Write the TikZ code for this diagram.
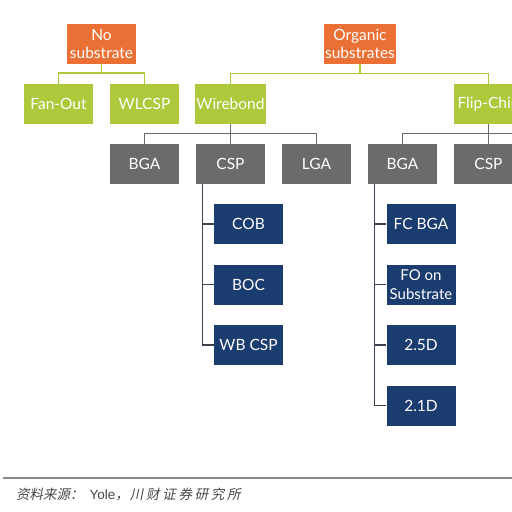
\documentclass[tikz,border=0pt]{standalone}
\usepackage{fontspec}
\setmainfont{Lato}
\newfontfamily\cjk[FakeSlant=0.2]{Noto Sans CJK SC}
\newfontfamily\cjkwide[FakeSlant=0.2, LetterSpace=20]{Noto Sans CJK SC}
\newfontfamily\capfont{Liberation Sans}
\usetikzlibrary{positioning}
\definecolor{orangebox}{HTML}{EB7035}
\definecolor{greenbox}{HTML}{AEC93C}
\definecolor{graybox}{HTML}{6B6B6D}
\definecolor{navybox}{HTML}{1B3C6E}
\definecolor{navyline}{HTML}{3B4150}
\definecolor{rulegray}{HTML}{8A8A8A}
\newcommand{\boxw}{69pt}
\newcommand{\boxh}{40pt}
\tikzset{
  pkg/.style = {minimum width=\boxw, minimum height=\boxh, inner sep=1pt, text=white,
                font=\fontsize{15.5}{18}\selectfont, align=center},
  topbox/.style = {pkg, fill=orangebox},
  techbox/.style = {pkg, fill=greenbox},
  typebox/.style = {pkg, fill=graybox},
  subbox/.style = {pkg, fill=navybox},
  greenlink/.style = {draw=greenbox, line width=1.5pt},
  graylink/.style = {draw=graybox, line width=1.5pt},
  navylink/.style = {draw=navyline, line width=1.3pt}
}

\begin{document}
\begin{tikzpicture}[x=1pt, y=-1pt]
                \clip (0,0) rectangle (512,512);
                \fill[white] (0,0) rectangle (512,512);
                % substrates
                \node[topbox] (nosub) at (101.5, 44) {No\\substrate};
                \node[topbox] (orgsub) at (360, 44) {Organic\\substrates};
                % interconnect
                \node[techbox] (fanout) at (58.5, 104) {Fan-Out};
                \node[techbox] (wlcsp) at (144.5, 104) {WLCSP};
                \node[techbox] (wirebond) at (230.5, 104) {Wirebond};
                \node[techbox] (flipchip) at (488.5, 104) {Flip-Chip};
                % package types
                \node[typebox] (bgaw) at (144.5, 164) {BGA};
                \node[typebox] (cspw) at (230.5, 164) {CSP};
                \node[typebox] (lgaw) at (316.5, 164) {LGA};
                \node[typebox] (bgaf) at (402.5, 164) {BGA};
                \node[typebox] (cspf) at (488.5, 164) {CSP};
                \coordinate (fcmore) at (530, 133.5);
                % wirebond CSP
                \node[subbox] (cob) at (248.5, 224) {COB};
                \node[subbox] (boc) at (248.5, 284.5) {BOC};
                \node[subbox] (wbcsp) at (248.5, 345) {WB CSP};
                % flip-chip BGA
                \node[subbox] (fcbga) at (421, 224) {FC BGA};
                \node[subbox, font=\fontsize{15}{19}\selectfont] (fosub) at (421, 284.5) {FO on\\Substrate};
                \node[subbox] (dtwofive) at (421, 345) {2.5D};
                \node[subbox] (dtwoone) at (421, 405.5) {2.1D};

                \draw[greenlink] (nosub.south) -- ++(0,9) -| (fanout.north);
                \draw[greenlink] (nosub.south) -- ++(0,9) -| (wlcsp.north);
                \draw[greenlink] (orgsub.south) -- ++(0,9.5) -| (wirebond.north);
                \draw[greenlink] (orgsub.south) -- ++(0,9.5) -| (flipchip.north);

                \draw[graylink] (wirebond.south) -- ++(0,9.5) -| (bgaw.north);
                \draw[graylink] (wirebond.south) -- ++(0,9.5) -| (cspw.north);
                \draw[graylink] (wirebond.south) -- ++(0,9.5) -| (lgaw.north);
                \draw[graylink] (flipchip.south) -- ++(0,9.5) -| (bgaf.north);
                \draw[graylink] (flipchip.south) -- ++(0,9.5) -| (cspf.north);
                \draw[graylink] (bgaf.north) |- (fcmore);

                \draw[navylink] ([xshift=7pt]cspw.south west) |- (cob.west);
                \draw[navylink] ([xshift=7pt]cspw.south west) |- (boc.west);
                \draw[navylink] ([xshift=7pt]cspw.south west) |- (wbcsp.west);
                \draw[navylink] ([xshift=7pt]bgaf.south west) |- (fcbga.west);
                \draw[navylink] ([xshift=7pt]bgaf.south west) |- (fosub.west);
                \draw[navylink] ([xshift=7pt]bgaf.south west) |- (dtwofive.west);
                \draw[navylink] ([xshift=7pt]bgaf.south west) |- (dtwoone.west);

                % source
                \draw[rulegray, line width=1.4pt] (3, 478) -- (512, 478);
                \node[anchor=base west, inner sep=0pt, text=black!72, font=\fontsize{13.5}{15}\selectfont] (source) at (16, 499)
                    {{\cjk 资料来源：}\hspace{6pt}{\capfont Yole}{\cjk ，}\hspace{1pt}{\cjkwide 川财证券研究所}};
\end{tikzpicture}
\end{document}
